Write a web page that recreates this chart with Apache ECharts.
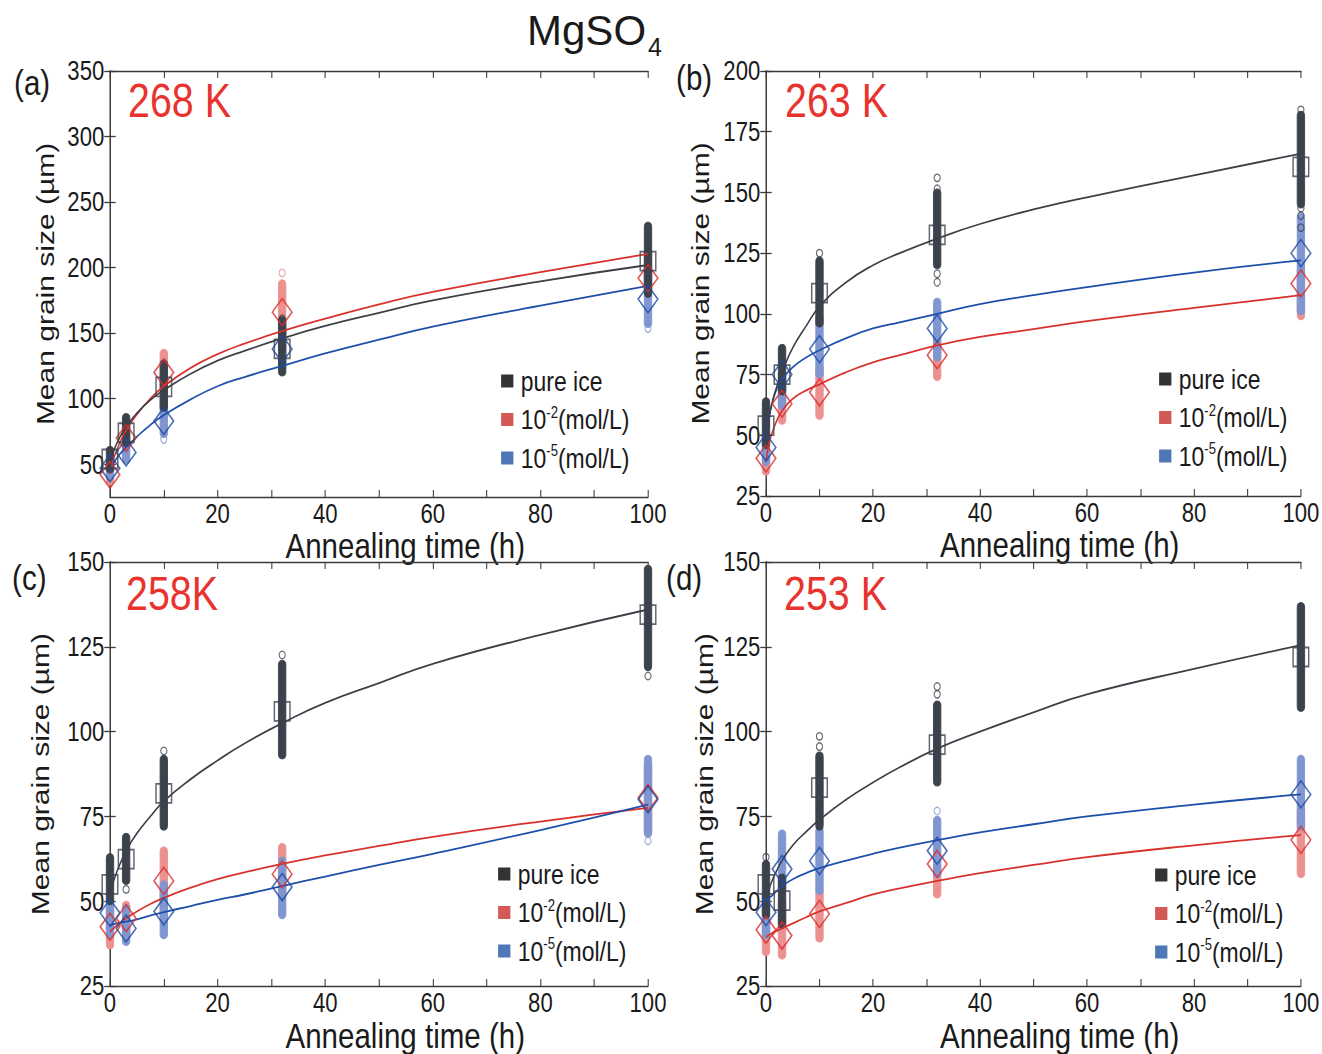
<!DOCTYPE html>
<html><head><meta charset="utf-8">
<script src="https://cdn.jsdelivr.net/npm/echarts@6/dist/echarts.min.js"></script>
<style>
html,body{margin:0;padding:0;background:#fff;overflow:hidden}
#wrap{width:1322px;height:1054px;overflow:hidden;position:relative;background:#fff}
#c{width:1612.2px;height:1054px;transform:scaleX(0.82);transform-origin:0 0}
</style>
</head><body><div id="wrap"><div id="c"></div></div>
<script>
// ---------- DATA ----------
const times = [0, 3, 10, 32, 100];
const fitT = [0, 0.5, 1, 2, 3, 5, 7.5, 10, 15, 20, 25, 32, 40, 50, 60, 80, 100];
const xLabels = [0, 20, 40, 60, 80, 100];
const xTicks = [0, 10, 20, 30, 40, 50, 60, 70, 80, 90, 100];
const legendNames = ['pure ice', '10-2', '10-5'];
const panelLetters = ['(a)', '(b)', '(c)', '(d)'];
const temps = ['268 K', '263 K', '258K', '253 K'];

// Panel (a) 268 K
const yTicksA = [50, 100, 150, 200, 250, 300, 350];
const meanA_pure = [54, 74, 109, 138, 205];
const meanA_m2 = [42, 70, 120, 166, 192];
const meanA_m5 = [47, 59, 83, 138, 176];
const rangeA_pure = [[46, 61], [66, 86], [93, 127], [120, 160], [180, 232]];
const rangeA_m2 = [[37, 50], [64, 80], [105, 135], [150, 188], [182, 212]];
const rangeA_m5 = [[40, 52], [53, 68], [73, 100], [125, 155], [157, 200]];
const outA_pure = [[32, 161]];
const outA_m2 = [[32, 196]];
const outA_m5 = [[10, 69], [100, 153.5]];
const fitA_pure = [50, 57.5, 63.5, 72, 78.5, 89, 99, 106.5, 119, 129, 136.5, 146, 155.5, 165.5, 175, 189.5, 202];
const fitA_m2 = [43, 51.5, 58, 68, 76, 88, 100, 109.5, 123.5, 134, 142, 151.5, 161, 172, 181.5, 196.5, 210.5];
const fitA_m5 = [44, 49, 53, 58.5, 63, 71, 80, 87.5, 99.5, 109.5, 116.5, 125, 134.5, 145, 155, 171, 186];

// Panel (b) 263 K
const yTicksB = [25, 50, 75, 100, 125, 150, 175, 200];
const meanB_pure = [54, 75, 108.5, 132.5, 160.5];
const meanB_m2 = [40.5, 63, 67.7, 83, 112.5];
const meanB_m5 = [45, 75, 85.5, 94, 125];
const rangeB_pure = [[46, 64], [68, 86], [96, 122], [120, 150], [145, 182]];
const rangeB_m2 = [[35, 44], [56, 67], [58, 78], [74, 88], [99, 118]];
const rangeB_m5 = [[39, 49], [62, 76], [75, 98], [82, 105], [101, 140]];
const outB_pure = [[10, 125], [32, 156], [32, 151.5], [32, 116.5], [32, 113], [100, 184], [100, 143.5], [100, 140.5], [100, 135.5]];
const outB_m2 = [];
const outB_m5 = [];
const fitB_pure = [45, 55, 62, 70, 76, 86, 95, 103, 113, 120, 125, 131, 137, 143, 148, 157, 166];
const fitB_m2 = [39, 46, 50, 56, 60, 65, 68.5, 71, 76, 80, 83, 87, 90.5, 93.7, 97, 102.5, 107.7];
const fitB_m5 = [46, 57, 62, 69, 73, 78, 82, 85, 90, 94, 96.5, 100, 104, 107.7, 111, 117, 122];

// Panel (c) 258 K
const yTicksC = [25, 50, 75, 100, 125, 150];
const meanC_pure = [55, 62.4, 81.8, 106, 134.5];
const meanC_m2 = [42.5, 45, 56, 58, 80.5];
const meanC_m5 = [46.6, 42, 47, 54.2, 80];
const rangeC_pure = [[50, 63], [56, 69], [72, 92], [93, 120], [119, 148]];
const rangeC_m2 = [[37, 48], [40, 49], [45, 65], [52, 66], [70, 90]];
const rangeC_m5 = [[40, 50], [38, 48], [40, 55], [46, 62], [70, 92]];
const outC_pure = [[3, 53.5], [10, 94.3], [32, 122.6], [100, 116.4]];
const outC_m2 = [];
const outC_m5 = [[32, 46], [100, 67.8]];
const fitC_pure = [52, 55, 57.5, 61.5, 65, 70, 75, 79.5, 86, 91.5, 96.5, 102.5, 108.5, 114.3, 120, 128.5, 136];
const fitC_m2 = [41, 41.8, 42.5, 43.8, 45, 47, 49.2, 51, 54, 56.5, 58.5, 61, 63.5, 66.3, 69, 73.5, 77.5];
const fitC_m5 = [43, 43.2, 43.4, 43.7, 44, 44.7, 45.8, 46.8, 48.6, 50.4, 52, 54.5, 57.3, 60.7, 64, 71, 78.5];

// Panel (d) 253 K
const yTicksD = [25, 50, 75, 100, 125, 150];
const meanD_pure = [55, 50.2, 83.5, 96.2, 122];
const meanD_m2 = [41.6, 39.9, 46.3, 61, 68.1];
const meanD_m5 = [46.8, 59.5, 61.9, 64.9, 81.5];
const rangeD_pure = [[46, 61], [43, 57], [72, 93], [85, 108], [107, 137]];
const rangeD_m2 = [[35, 46], [34, 50], [39, 53], [52, 60], [58, 77]];
const rangeD_m5 = [[40, 52], [54, 70], [53, 71], [58, 74], [72, 92]];
const outD_pure = [[0, 63], [10, 95.6], [10, 98.6], [32, 111], [32, 113.3]];
const outD_m2 = [];
const outD_m5 = [[32, 76.6]];
const fitD_pure = [50, 53, 55.5, 59, 62, 66.5, 70.5, 74, 80, 85, 89.5, 95, 100, 105.7, 111, 118.5, 125.5];
const fitD_m2 = [39.5, 40, 40.5, 41.3, 42, 43.5, 45.3, 47, 49.5, 52, 53.8, 56, 58.3, 60.7, 63, 66.5, 69.5];
const fitD_m5 = [50, 50.8, 51.5, 53, 54.5, 56.5, 58.3, 59.8, 62, 64, 65.8, 68, 70.3, 72.7, 75, 78.5, 81.5];

// ---------- LAYOUT / STYLE ----------
// The figure is drawn on a wider canvas and compressed horizontally (like the reference figure).
const S = 0.82;
const sx = (v) => v / S;
const FONT = '"Liberation Sans", Arial, sans-serif';
const C = {
  ptPure: '#3c424c', ptM2: '#ec9090', ptM5: '#7f96d0',
  mkPure: '#3c424c', mkM2: '#d9302d', mkM5: '#1f4ba3',
  fitPure: '#3b3f46', fitM2: '#d8312c', fitM5: '#1c4fa9',
  lgPure: '#000000', lgM2: '#c8302c', lgM5: '#2255a5', axis: '#3a3a3a', text: '#1a1a1a', temp: '#e8332e'
};
const panels = [
  { grid: { left: 110, top: 71, width: 538, height: 426 }, yMin: 25, yMax: 350, yTicks: yTicksA, nameGapY: 64,
    mean: [meanA_pure, meanA_m2, meanA_m5], range: [rangeA_pure, rangeA_m2, rangeA_m5], out: [outA_pure, outA_m2, outA_m5], fit: [fitA_pure, fitA_m2, fitA_m5],
    legend: { left: 497, top: 361 }, letter: { left: 10, top: 59 }, temp: { left: 124, top: 71 } },
  { grid: { left: 766, top: 71, width: 539, height: 425 }, yMin: 25, yMax: 200, yTicks: yTicksB, nameGapY: 65,
    mean: [meanB_pure, meanB_m2, meanB_m5], range: [rangeB_pure, rangeB_m2, rangeB_m5], out: [outB_pure, outB_m2, outB_m5], fit: [fitB_pure, fitB_m2, fitB_m5],
    legend: { left: 1155, top: 359 }, letter: { left: 672, top: 54 }, temp: { left: 781, top: 71 } },
  { grid: { left: 110, top: 562, width: 538, height: 426 }, yMin: 25, yMax: 150, yTicks: yTicksC, nameGapY: 70,
    mean: [meanC_pure, meanC_m2, meanC_m5], range: [rangeC_pure, rangeC_m2, rangeC_m5], out: [outC_pure, outC_m2, outC_m5], fit: [fitC_pure, fitC_m2, fitC_m5],
    legend: { left: 494, top: 854 }, letter: { left: 8, top: 554 }, temp: { left: 122, top: 564 } },
  { grid: { left: 766, top: 562, width: 539, height: 426 }, yMin: 25, yMax: 150, yTicks: yTicksD, nameGapY: 60,
    mean: [meanD_pure, meanD_m2, meanD_m5], range: [rangeD_pure, rangeD_m2, rangeD_m5], out: [outD_pure, outD_m2, outD_m5], fit: [fitD_pure, fitD_m2, fitD_m5],
    legend: { left: 1151, top: 855 }, letter: { left: 662, top: 554 }, temp: { left: 780, top: 564 } }
];

const ptColors = [C.ptPure, C.ptM2, C.ptM5];
const mkColors = [C.mkPure, C.mkM2, C.mkM5];
const fitColors = [C.fitPure, C.fitM2, C.fitM5];

function rangeRenderer(fill) {
  return function (params, api) {
    const t = api.value(0), lo = api.value(1), hi = api.value(2);
    const top = api.coord([t, hi]), bot = api.coord([t, lo]);
    const w = 9, h = 7;
    return { type: 'rect',
      shape: { x: top[0] - w / 2, y: top[1] - h / 2, width: w, height: bot[1] - top[1] + h, r: [w / 2, w / 2, w / 2, w / 2] },
      style: { fill: fill, stroke: fill, lineWidth: 1 } };
  };
}

const grids = [], xAxes = [], yAxes = [], series = [], legends = [], titles = [];
panels.forEach((p, i) => {
  grids.push({ left: sx(p.grid.left), top: p.grid.top, width: sx(p.grid.width), height: p.grid.height });
  const axLine = { show: true, lineStyle: { color: C.axis, width: 1.4 } };
  const tick = { show: true, inside: true, length: 7, lineStyle: { color: C.axis, width: 1.3 } };
  xAxes.push({ gridIndex: i, type: 'value', min: 0, max: 100, interval: 10, position: 'bottom',
    axisLine: axLine, axisTick: Object.assign({ customValues: xTicks }, tick),
    axisLabel: { customValues: xLabels, fontSize: 27, fontFamily: FONT, color: C.text, margin: 3 },
    splitLine: { show: false },
    name: 'Annealing time (h)', nameLocation: 'middle', nameGap: 26,
    nameTextStyle: { fontSize: 36, fontFamily: FONT, color: C.text, padding: [0, 0, 0, 64] } });
  xAxes.push({ gridIndex: i, type: 'value', min: 0, max: 100, interval: 10, position: 'top',
    axisLine: axLine, axisTick: Object.assign({ customValues: xTicks }, tick),
    axisLabel: { show: false }, splitLine: { show: false } });
  yAxes.push({ gridIndex: i, type: 'value', min: p.yMin, max: p.yMax, position: 'left',
    axisLine: axLine, axisTick: Object.assign({ customValues: p.yTicks }, tick),
    axisLabel: { customValues: p.yTicks, fontSize: 27, fontFamily: FONT, color: C.text, margin: 7 },
    splitLine: { show: false },
    name: 'Mean grain size (µm)', nameLocation: 'middle', nameGap: p.nameGapY,
    nameTextStyle: { fontSize: 30, fontFamily: FONT, color: C.text } });
  yAxes.push({ gridIndex: i, type: 'value', min: p.yMin, max: p.yMax, position: 'right',
    axisLine: axLine, axisTick: Object.assign({ customValues: p.yTicks }, tick),
    axisLabel: { show: false }, splitLine: { show: false } });

  const xi = i * 2, yi = i * 2;
  // dense point columns: red, blue, black order
  [1, 2, 0].forEach((s, k) => {
    series.push({ type: 'custom', name: 'pts' + i + s, xAxisIndex: xi, yAxisIndex: yi, z: 2 + k, clip: false,
      renderItem: rangeRenderer(ptColors[s]), encode: { x: 0, y: [1, 2] },
      data: times.map((t, j) => [t, p.range[s][j][0], p.range[s][j][1]]) });
    series.push({ type: 'scatter', name: 'out' + i + s, xAxisIndex: xi, yAxisIndex: yi, z: 2 + k,
      symbol: 'circle', symbolSize: 7.5,
      itemStyle: { color: 'rgba(0,0,0,0)', borderColor: ptColors[s], borderWidth: 1.3 },
      data: p.out[s] });
  });
  // fit curves
  [1, 2, 0].forEach((s) => {
    series.push({ type: 'line', name: 'fit' + i + s, xAxisIndex: xi, yAxisIndex: yi, z: 6,
      smooth: 0.5, showSymbol: false, symbol: 'none',
      lineStyle: { color: fitColors[s], width: 1.8 },
      data: fitT.map((t, j) => [t, p.fit[s][j]]) });
  });
  // mean markers
  [1, 2, 0].forEach((s) => {
    series.push({ type: 'scatter', name: legendNames[s], xAxisIndex: xi, yAxisIndex: yi, z: 8,
      symbol: s === 0 ? 'rect' : 'diamond', symbolSize: s === 0 ? [19, 19] : [24, 27],
      itemStyle: { color: 'rgba(0,0,0,0)', borderColor: mkColors[s], borderWidth: 1.8 },
      data: times.map((t, j) => [t, p.mean[s][j]]) });
  });
  legends.push({ orient: 'vertical', left: sx(p.legend.left), top: p.legend.top, itemGap: 8.5,
    itemWidth: 15, itemHeight: 13, selectedMode: false,
    formatter: (n) => n === 'pure ice' ? 'pure ice' : (n === '10-2' ? '10{s|-2}(mol/L)' : '10{s|-5}(mol/L)'),
    textStyle: { fontSize: 28, fontFamily: FONT, color: C.text, lineHeight: 30, padding: [0, 0, 0, 4],
      rich: { s: { fontSize: 16, lineHeight: 16, verticalAlign: 'top', fontFamily: FONT, color: C.text } } },
    data: [
      { name: 'pure ice', icon: 'rect', itemStyle: { color: C.lgPure, borderWidth: 0 } },
      { name: '10-2', icon: 'rect', itemStyle: { color: C.lgM2, borderWidth: 0 } },
      { name: '10-5', icon: 'rect', itemStyle: { color: C.lgM5, borderWidth: 0 } }
    ] });
  titles.push({ text: panelLetters[i], left: sx(p.letter.left), top: p.letter.top,
    textStyle: { fontSize: 36, fontFamily: FONT, fontWeight: 'normal', color: C.text } });
  titles.push({ text: temps[i], left: sx(p.temp.left), top: p.temp.top,
    textStyle: { fontSize: 48, fontFamily: FONT, fontWeight: 'normal', color: C.temp } });
});

// main title, drawn with inverse horizontal scale so it keeps normal proportions
const graphics = [
  { type: 'text', x: sx(527), y: 9, scaleX: 1 / S, scaleY: 1,
    style: { text: 'MgSO', font: '42px "Liberation Sans", Arial, sans-serif', fill: C.text } },
  { type: 'text', x: sx(648), y: 34, scaleX: 1 / S, scaleY: 1,
    style: { text: '4', font: '25px "Liberation Sans", Arial, sans-serif', fill: C.text } }
];

const chart = echarts.init(document.getElementById('c'), null, { renderer: 'svg' });
chart.setOption({ animation: false, backgroundColor: '#fff', title: titles, legend: legends,
  grid: grids, xAxis: xAxes, yAxis: yAxes, series: series, graphic: graphics });
</script></body></html>
